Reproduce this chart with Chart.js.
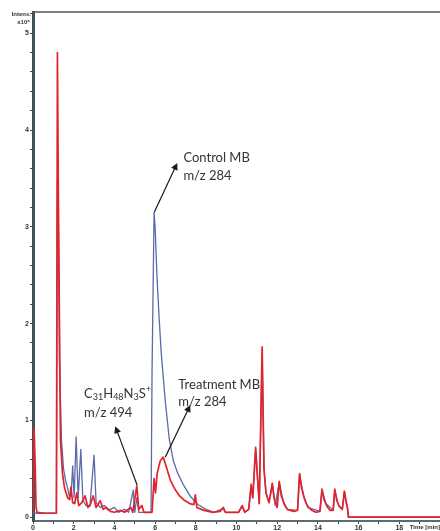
<!DOCTYPE html>
<html>
<head>
<meta charset="utf-8">
<script src="https://cdn.jsdelivr.net/npm/chart.js@4.4.1/dist/chart.umd.min.js"></script>
<style>
  html, body { margin: 0; padding: 0; background: #fff; }
  #wrap { position: relative; width: 440px; height: 531px; }
</style>
</head>
<body>
<div id="wrap"><canvas id="c"></canvas></div>
<script>
// retention time (min) and intensity (x10^6)
const treatTime = [0, 0.05, 0.1, 0.15, 0.2, 0.6, 1.15, 1.2, 1.25, 1.3, 1.35, 1.45, 1.55, 1.7, 1.8, 1.86, 1.95, 2.05, 2.15, 2.25, 2.4, 2.56, 2.7, 2.8, 2.96, 3.1, 3.3, 3.45, 3.6, 3.8, 4.0, 4.3, 4.5, 4.8, 4.9, 5.1, 5.2, 5.35, 5.45, 5.85, 5.95, 6.02, 6.1, 6.25, 6.4, 6.55, 6.75, 7.0, 7.2, 7.4, 7.7, 7.9, 7.98, 8.05, 8.4, 8.8, 9.2, 9.35, 9.45, 10.1, 10.28, 10.4, 10.6, 10.72, 10.8, 10.94, 11.05, 11.12, 11.26, 11.35, 11.45, 11.55, 11.6, 11.76, 11.85, 12.0, 12.1, 12.2, 12.35, 12.5, 12.8, 13.0, 13.1, 13.2, 13.35, 13.5, 13.7, 13.9, 14.1, 14.2, 14.3, 14.45, 14.6, 14.75, 14.83, 14.93, 15.05, 15.2, 15.3, 15.4, 15.45, 15.5, 20.5];
const treatValue = [0.05, 0.92, 0.6, 0.1, 0.05, 0.04, 0.04, 4.8, 3.2, 2.0, 0.8, 0.45, 0.3, 0.2, 0.18, 0.31, 0.15, 0.14, 0.25, 0.12, 0.15, 0.22, 0.1, 0.12, 0.22, 0.1, 0.17, 0.08, 0.1, 0.06, 0.05, 0.07, 0.05, 0.1, 0.05, 0.32, 0.08, 0.12, 0.05, 0.05, 0.4, 0.25, 0.45, 0.58, 0.62, 0.52, 0.38, 0.28, 0.22, 0.18, 0.14, 0.13, 0.23, 0.1, 0.07, 0.05, 0.06, 0.1, 0.05, 0.05, 0.12, 0.05, 0.08, 0.34, 0.2, 0.72, 0.35, 0.14, 1.76, 0.5, 0.25, 0.18, 0.15, 0.35, 0.2, 0.1, 0.37, 0.22, 0.13, 0.08, 0.06, 0.07, 0.45, 0.3, 0.18, 0.11, 0.07, 0.05, 0.06, 0.29, 0.18, 0.11, 0.07, 0.07, 0.29, 0.17, 0.11, 0.08, 0.27, 0.14, 0.1, 0.0, 0.0];

const controlTime = [0, 1.15, 1.2, 1.25, 1.3, 1.4, 1.5, 1.6, 1.7, 1.8, 1.88, 1.95, 2.02, 2.12, 2.22, 2.35, 2.45, 2.6, 2.8, 3.0, 3.1, 3.3, 3.5, 3.7, 4.0, 4.2, 4.5, 4.7, 4.93, 5.0, 5.1, 5.2, 5.8, 5.85, 5.95, 6.0, 6.1, 6.2, 6.3, 6.5, 6.7, 6.9, 7.1, 7.4, 7.75, 8.1, 8.5, 8.9, 9.35, 9.45, 10.1, 10.28, 10.4, 10.6, 10.72, 10.8, 10.94, 11.05, 11.12, 11.26, 11.35, 11.45, 11.6, 11.76, 11.9, 12.1, 12.3, 12.5, 13.0, 13.1, 13.3, 13.5, 14.1, 14.2, 14.4, 14.75, 14.83, 15.0, 15.2, 15.3, 15.45, 15.5, 20.5];
const controlValue = [0.04, 0.04, 3.5, 3.0, 1.6, 0.8, 0.5, 0.38, 0.3, 0.2, 0.25, 0.53, 0.2, 0.83, 0.2, 0.7, 0.18, 0.12, 0.12, 0.64, 0.15, 0.1, 0.12, 0.07, 0.1, 0.05, 0.08, 0.05, 0.28, 0.05, 0.2, 0.05, 0.05, 1.5, 3.15, 3.0, 2.45, 2.05, 1.7, 1.2, 0.8, 0.58, 0.46, 0.33, 0.21, 0.13, 0.08, 0.05, 0.09, 0.05, 0.05, 0.11, 0.05, 0.08, 0.32, 0.2, 0.7, 0.35, 0.14, 1.7, 0.5, 0.25, 0.15, 0.34, 0.12, 0.36, 0.16, 0.08, 0.07, 0.44, 0.22, 0.1, 0.06, 0.28, 0.14, 0.07, 0.28, 0.13, 0.08, 0.26, 0.1, 0.0, 0.0];

const xTicks = [0, 1, 2, 3, 4, 5, 6, 7, 8, 9, 10, 11, 12, 13, 14, 15, 16, 17, 18, 19, 20];
const yTicks = [0, 0.2, 0.4, 0.6, 0.8, 1, 1.2, 1.4, 1.6, 1.8, 2, 2.2, 2.4, 2.6, 2.8, 3, 3.2, 3.4, 3.6, 3.8, 4, 4.2, 4.4, 4.6, 4.8, 5, 5.2];

function pts(t, v) {
    return t.map((x, i) => ({ x: x, y: v[i] }));
}

// labels and arrows, in data units
const notes = [
    { parts: [['Control MB', '']], x: 7.39, y: 3.71 },
    { parts: [['m/z 284', '']], x: 7.39, y: 3.53 },
    { parts: [['Treatment MB', '']], x: 7.14, y: 1.37 },
    { parts: [['m/z 284', '']], x: 7.14, y: 1.19 },
    { parts: [['C', ''], ['31', 'sub'], ['H', ''], ['48', 'sub'], ['N', ''], ['3', 'sub'], ['S', ''], ['+', 'sup']], x: 2.51, y: 1.27 },
    { parts: [['m/z 494', '']], x: 2.51, y: 1.08 }
];
const arrows = [
    { from: [5.96, 3.15], to: [7.09, 3.66] },
    { from: [6.5, 0.62], to: [7.73, 1.16] },
    { from: [5.12, 0.33], to: [4.04, 0.94] }
];

const decor = {
    id: 'decor',
    afterDraw(chart) {
        const ctx = chart.ctx, xs = chart.scales.x, ys = chart.scales.y, a = chart.chartArea;
        ctx.save();
        // top frame line
        ctx.strokeStyle = '#555';
        ctx.lineWidth = 1.5;
        ctx.beginPath();
        ctx.moveTo(a.left, a.top);
        ctx.lineTo(a.right, a.top);
        ctx.stroke();

        ctx.fillStyle = '#333';
        ctx.font = 'bold 6px "Liberation Sans", Arial';
        ctx.textAlign = 'right';
        ctx.textBaseline = 'middle';
        ctx.fillText('Intens.', a.left - 2, a.top + 2);
        ctx.fillText('x10\u2076', a.left - 3, a.top + 10);
        ctx.fillText('Time [min]', 440, a.bottom + 6);

        ctx.textAlign = 'left';
        notes.forEach(n => {
            let px = xs.getPixelForValue(n.x);
            const py = ys.getPixelForValue(n.y);
            n.parts.forEach(p => {
                let dy = 0;
                if (p[1]) {
                    ctx.font = '9px Lato, "Open Sans", sans-serif';
                    dy = p[1] === 'sub' ? 3 : -5;
                } else {
                    ctx.font = '13px Lato, "Open Sans", sans-serif';
                }
                ctx.fillText(p[0], px, py + dy);
                px += ctx.measureText(p[0]).width;
            });
        });

        ctx.strokeStyle = '#1a1a1a';
        ctx.fillStyle = '#1a1a1a';
        ctx.lineWidth = 1.2;
        arrows.forEach(ar => {
            const x0 = xs.getPixelForValue(ar.from[0]), y0 = ys.getPixelForValue(ar.from[1]);
            const x1 = xs.getPixelForValue(ar.to[0]), y1 = ys.getPixelForValue(ar.to[1]);
            const ang = Math.atan2(y1 - y0, x1 - x0);
            ctx.beginPath();
            ctx.moveTo(x0, y0);
            ctx.lineTo(x1 - 5 * Math.cos(ang), y1 - 5 * Math.sin(ang));
            ctx.stroke();
            ctx.beginPath();
            ctx.moveTo(x1, y1);
            ctx.lineTo(x1 - 7 * Math.cos(ang) + 3.5 * Math.sin(ang), y1 - 7 * Math.sin(ang) - 3.5 * Math.cos(ang));
            ctx.lineTo(x1 - 7 * Math.cos(ang) - 3.5 * Math.sin(ang), y1 - 7 * Math.sin(ang) + 3.5 * Math.cos(ang));
            ctx.closePath();
            ctx.fill();
        });
        ctx.restore();
    }
};

new Chart(document.getElementById('c'), {
    type: 'line',
    data: {
        datasets: [
            { label: 'Treatment MB', data: pts(treatTime, treatValue), borderColor: '#e3232c', borderWidth: 1.7 },
            { label: 'Control MB', data: pts(controlTime, controlValue), borderColor: '#5a6aab', borderWidth: 1.3 }
        ]
    },
    options: {
        responsive: true,
        maintainAspectRatio: false,
        animation: false,
        layout: { padding: { top: 12, right: 0, left: 0, bottom: 0 } },
        elements: { point: { radius: 0 }, line: { tension: 0, borderJoinStyle: 'round' } },
        plugins: { legend: { display: false }, tooltip: { enabled: false } },
        scales: {
            x: {
                type: 'linear', min: 0, max: 20,
                afterBuildTicks: s => { s.ticks = xTicks.map(v => ({ value: v })); },
                afterFit: s => { s.height = 10; },
                grid: { drawOnChartArea: false, tickLength: 3, color: '#444' },
                border: { color: '#5c6b6e', width: 2 },
                ticks: {
                    padding: 0, color: '#333', autoSkip: false, maxRotation: 0,
                    font: { size: 7, weight: 'bold', family: '"Liberation Sans", Arial' },
                    callback: v => (v % 2 === 0 && v < 20) ? String(v) : ''
                }
            },
            y: {
                min: -0.04, max: 5.22,
                afterBuildTicks: s => { s.ticks = yTicks.map(v => ({ value: v })); },
                afterFit: s => { s.width = 33; },
                grid: { drawOnChartArea: false, tickLength: 3, color: '#444' },
                border: { color: '#3d5458', width: 3 },
                ticks: {
                    padding: 1, color: '#333',
                    font: { size: 7, weight: 'bold', family: '"Liberation Sans", Arial' },
                    callback: v => Math.abs(v - Math.round(v)) < 1e-6 ? String(Math.round(v)) : ''
                }
            }
        }
    },
    plugins: [decor]
});
</script>
</body>
</html>
